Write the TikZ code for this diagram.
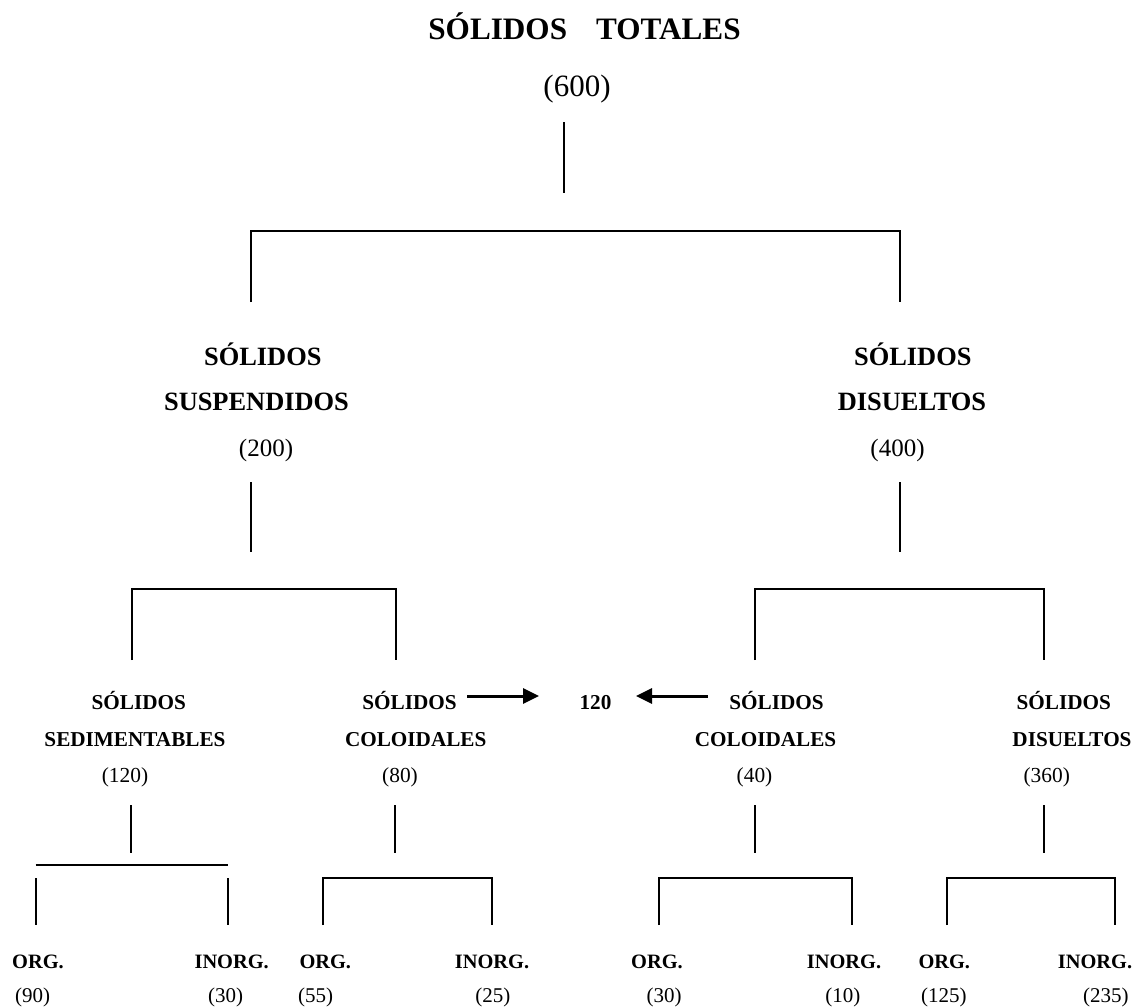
\documentclass[tikz,border=0pt]{standalone}
\usepackage{fontspec}
\setmainfont{Liberation Serif}
\usetikzlibrary{arrows.meta}

\tikzset{
  lbl/.style={anchor=base, inner sep=0pt, outer sep=0pt},
  ttl/.style={lbl, font=\fontsize{31.2}{36}\selectfont\bfseries},
  bignum/.style={lbl, font=\fontsize{31}{36}\selectfont},
  midlbl/.style={lbl, font=\fontsize{26.4}{30}\selectfont\bfseries},
  midnum/.style={lbl, font=\fontsize{25}{30}\selectfont},
  smlbl/.style={lbl, font=\fontsize{21.2}{25}\selectfont\bfseries},
  smnum/.style={lbl, font=\fontsize{21.4}{25}\selectfont},
  leaflbl/.style={lbl, font=\fontsize{20.4}{24}\selectfont\bfseries},
  leafnum/.style={lbl, font=\fontsize{21}{25}\selectfont},
  wire/.style={line width=2pt},
  flow/.style={line width=3pt, -{Triangle[length=16pt,width=15pt]}}
}

\begin{document}
\begin{tikzpicture}[x=1pt, y=-1pt]
\fill[white] (0,0) rectangle (1140,1007);
\useasboundingbox (0,0) rectangle (1140,1007);

% ---------- level 0 ----------
\node[ttl] (tot) at (584.5,39.3) {SÓLIDOS\hspace{29pt}TOTALES};
\node[bignum] (totn) at (577,96.7) {(600)};

% ---------- level 1 ----------
\node[midlbl] (ss1) at (262.8,365) {SÓLIDOS};
\node[midlbl] (ss2) at (256.5,410.5) {SUSPENDIDOS};
\node[midnum] (ssn) at (266,456) {(200)};

\node[midlbl] (sd1) at (912.8,365) {SÓLIDOS};
\node[midlbl] (sd2) at (912,410.5) {DISUELTOS};
\node[midnum] (sdn) at (897.5,456) {(400)};

% ---------- level 2 ----------
\node[smlbl] (sed1) at (138.8,709.3) {SÓLIDOS};
\node[smlbl] (sed2) at (135,746.7) {SEDIMENTABLES};
\node[smnum] (sedn) at (125,782.3) {(120)};

\node[smlbl] (colA1) at (409.5,709.3) {SÓLIDOS};
\node[smlbl] (colA2) at (415.7,746.7) {COLOIDALES};
\node[smnum] (colAn) at (400,782.3) {(80)};

\node[smlbl] (mid) at (595.5,709.3) {120};

\node[smlbl] (colB1) at (776.5,709.3) {SÓLIDOS};
\node[smlbl] (colB2) at (765.5,746.7) {COLOIDALES};
\node[smnum] (colBn) at (754.5,782.3) {(40)};

\node[smlbl] (dis1) at (1063.7,709.3) {SÓLIDOS};
\node[smlbl] (dis2) at (1072,746.7) {DISUELTOS};
\node[smnum] (disn) at (1046.7,782.3) {(360)};

% ---------- level 3 ----------
\node[leaflbl] (o1) at (38,968.3) {ORG.};
\node[leaflbl] (i1) at (231.7,968.3) {INORG.};
\node[leaflbl] (o2) at (325.3,968.3) {ORG.};
\node[leaflbl] (i2) at (492,968.3) {INORG.};
\node[leaflbl] (o3) at (657,968.3) {ORG.};
\node[leaflbl] (i3) at (844,968.3) {INORG.};
\node[leaflbl] (o4) at (944.3,968.3) {ORG.};
\node[leaflbl] (i4) at (1095,968.3) {INORG.};

\node[leafnum] (o1n) at (32.5,1002) {(90)};
\node[leafnum] (i1n) at (225.5,1002) {(30)};
\node[leafnum] (o2n) at (315.7,1002) {(55)};
\node[leafnum] (i2n) at (492.8,1002) {(25)};
\node[leafnum] (o3n) at (664,1002) {(30)};
\node[leafnum] (i3n) at (842.8,1002) {(10)};
\node[leafnum] (o4n) at (943.8,1002) {(125)};
\node[leafnum] (i4n) at (1105.8,1002) {(235)};

% ---------- connector end points ----------
\coordinate (t0a) at (563.5,122);  \coordinate (t0b) at (563.5,193);
\coordinate (b0l) at (251,302);   \coordinate (b0lt) at (251,231);
\coordinate (b0rt) at (900,231);  \coordinate (b0r) at (900,302);

\coordinate (ssa) at (251,482);   \coordinate (ssb) at (251,552);
\coordinate (sda) at (900,482);   \coordinate (sdb) at (900,552);

\coordinate (bLl) at (132,660);   \coordinate (bLlt) at (132,589);
\coordinate (bLrt) at (396,589);  \coordinate (bLr) at (396,660);
\coordinate (bRl) at (755,660);   \coordinate (bRlt) at (755,589);
\coordinate (bRrt) at (1044,589); \coordinate (bRr) at (1044,660);

\coordinate (v1a) at (131,805);    \coordinate (v1b) at (131,853);
\coordinate (v2a) at (395.4,805);  \coordinate (v2b) at (395.4,853);
\coordinate (v3a) at (755,805);    \coordinate (v3b) at (755,853);
\coordinate (v4a) at (1043.7,805); \coordinate (v4b) at (1043.7,853);

\coordinate (h1l) at (35.7,865);   \coordinate (h1r) at (227.7,865);
\coordinate (k1a) at (35.7,878);   \coordinate (k1b) at (35.7,925);
\coordinate (k2a) at (227.7,878);  \coordinate (k2b) at (227.7,925);

\coordinate (c2l) at (323.3,925);  \coordinate (c2lt) at (323.3,877.7);
\coordinate (c2rt) at (492,877.7); \coordinate (c2r) at (492,925);
\coordinate (c3l) at (658.6,925);  \coordinate (c3lt) at (658.6,877.7);
\coordinate (c3rt) at (852,877.7); \coordinate (c3r) at (852,925);
\coordinate (c4l) at (947.3,925);  \coordinate (c4lt) at (947.3,877.7);
\coordinate (c4rt) at (1115,877.7);\coordinate (c4r) at (1115,925);

\coordinate (arLs) at (467.3,696); \coordinate (arLe) at (539,696);
\coordinate (arRs) at (707.7,696); \coordinate (arRe) at (636,696);

% ---------- connectors ----------
\draw[wire] (t0a) -- (t0b);
\draw[wire] (b0l) -- (b0lt) -- (b0rt) -- (b0r);
\draw[wire] (ssa) -- (ssb);
\draw[wire] (sda) -- (sdb);
\draw[wire] (bLl) -- (bLlt) -- (bLrt) -- (bLr);
\draw[wire] (bRl) -- (bRlt) -- (bRrt) -- (bRr);
\draw[wire] (v1a) -- (v1b);
\draw[wire] (v2a) -- (v2b);
\draw[wire] (v3a) -- (v3b);
\draw[wire] (v4a) -- (v4b);
\draw[wire] (h1l) -- (h1r);
\draw[wire] (k1a) -- (k1b);
\draw[wire] (k2a) -- (k2b);
\draw[wire] (c2l) -- (c2lt) -- (c2rt) -- (c2r);
\draw[wire] (c3l) -- (c3lt) -- (c3rt) -- (c3r);
\draw[wire] (c4l) -- (c4lt) -- (c4rt) -- (c4r);

\draw[flow] (arLs) -- (arLe);
\draw[flow] (arRs) -- (arRe);
\end{tikzpicture}
\end{document}
